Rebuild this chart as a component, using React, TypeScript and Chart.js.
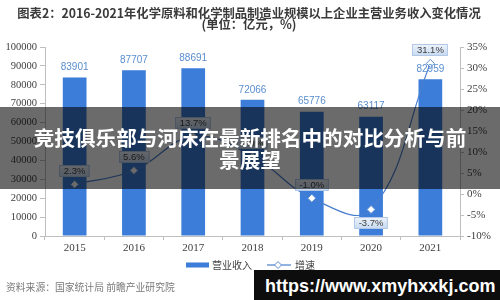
import React, { useEffect, useRef } from "react";
import { Chart, registerables } from "chart.js";

Chart.register(...registerables);

const years = ["2015", "2016", "2017", "2018", "2019", "2020", "2021"];
const revenue = [83901, 87707, 88691, 72066, 65776, 63117, 82959];
const growth = [2.3, 5.6, 13.7, 9.0, -1.0, -3.7, 31.1];
const titleLines = [
  "图表2：2016-2021年化学原料和化学制品制造业规模以上企业主营业务收入变化情况",
  "(单位：亿元，%)",
];
const legendLabels = ["营业收入", "增速"];
const sourceText = "资料来源：国家统计局 前瞻产业研究院";
const bannerText = "竞技俱乐部与河床在最新排名中的对比分析与前景展望";
const urlText = "https://www.xmyhxxkj.com";

const BAR_COLOR = "#3b7dd8";
const LINE_COLOR = "#4a7fcf";
const POINT_BORDER = "#5b8ed6";

const drawDiamond = (ctx: CanvasRenderingContext2D, x: number, y: number, r: number) => {
  ctx.beginPath();
  ctx.moveTo(x, y - r);
  ctx.lineTo(x + r, y);
  ctx.lineTo(x, y + r);
  ctx.lineTo(x - r, y);
  ctx.closePath();
  ctx.fillStyle = "#ffffff";
  ctx.fill();
  ctx.strokeStyle = POINT_BORDER;
  ctx.lineWidth = 1;
  ctx.stroke();
};

const overlayPlugin = {
  id: "overlayLabels",
  afterDatasetsDraw(chart: any) {
    const ctx: CanvasRenderingContext2D = chart.ctx;
    ctx.save();
    // bar value labels
    const barMeta = chart.getDatasetMeta(0);
    ctx.font = '10px "Liberation Sans"';
    ctx.fillStyle = "#5a8ed0";
    ctx.textAlign = "center";
    ctx.textBaseline = "middle";
    barMeta.data.forEach((el: any, i: number) => {
      ctx.fillText(String(revenue[i]), el.x, el.y - 10);
    });
    // growth labels
    const lineMeta = chart.getDatasetMeta(1);
    ctx.font = '9.5px "Liberation Sans"';
    lineMeta.data.forEach((el: any, i: number) => {
      const v = growth[i];
      const isMin = i > 0 && i < growth.length - 1 && v < growth[i - 1] && v < growth[i + 1];
      const cy = isMin ? el.y + 13 : el.y - 13.5;
      const text = v.toFixed(1) + "%";
      const w = ctx.measureText(text).width + 9;
      const h = 12;
      const x0 = Math.round(el.x - w / 2);
      const y0 = Math.round(cy - h / 2);
      const g = ctx.createLinearGradient(0, y0, 0, y0 + h);
      g.addColorStop(0, "#eef4fb");
      g.addColorStop(1, "#c6d9f1");
      ctx.fillStyle = g;
      ctx.fillRect(x0, y0, w, h);
      ctx.strokeStyle = "#b3c8e6";
      ctx.lineWidth = 1;
      ctx.strokeRect(x0 + 0.5, y0 + 0.5, w - 1, h - 1);
      ctx.fillStyle = "#404040";
      ctx.fillText(text, el.x, y0 + h / 2 + 0.5);
    });
    ctx.restore();
  },
  afterDraw(chart: any) {
    const ctx: CanvasRenderingContext2D = chart.ctx;
    ctx.save();
    // title
    ctx.fillStyle = "#3a3a3a";
    ctx.textAlign = "center";
    ctx.textBaseline = "middle";
    ctx.font = 'bold 12.3px "Noto Sans CJK SC"';
    ctx.fillText(titleLines[0], 249, 13);
    ctx.fillText(titleLines[1], 249, 24.5);
    // legend
    const ly = 265;
    ctx.fillStyle = BAR_COLOR;
    ctx.fillRect(186, ly - 2.5, 23, 5);
    ctx.textAlign = "left";
    ctx.fillStyle = "#404040";
    ctx.font = '10px "Noto Sans CJK SC"';
    ctx.fillText(legendLabels[0], 212, ly);
    ctx.strokeStyle = LINE_COLOR;
    ctx.lineWidth = 1.2;
    ctx.beginPath();
    ctx.moveTo(267, ly);
    ctx.lineTo(291, ly);
    ctx.stroke();
    drawDiamond(ctx, 278, ly, 3.5);
    ctx.fillStyle = "#404040";
    ctx.fillText(legendLabels[1], 295, ly);
    // source
    ctx.fillStyle = "#7a7a7a";
    ctx.font = '9.8px "Noto Sans CJK SC"';
    ctx.fillText(sourceText, 6, 287);
    ctx.restore();
  },
};

export default function App() {
  const canvasRef = useRef<HTMLCanvasElement | null>(null);

  useEffect(() => {
    document.body.style.margin = "0";
    const canvas = canvasRef.current;
    if (!canvas) return;
    const tickFont = { family: '"Liberation Serif"', size: 10.5 };
    const chart = new Chart(canvas, {
      type: "bar",
      data: {
        labels: years,
        datasets: [
          {
            type: "bar",
            label: legendLabels[0],
            data: revenue,
            backgroundColor: BAR_COLOR,
            categoryPercentage: 1,
            barPercentage: 0.4,
            yAxisID: "y",
            order: 1,
          },
          {
            type: "line",
            label: legendLabels[1],
            data: growth,
            borderColor: LINE_COLOR,
            borderWidth: 1.2,
            tension: 0.4,
            pointStyle: "rectRot",
            pointRadius: 4,
            pointBackgroundColor: "#ffffff",
            pointBorderColor: POINT_BORDER,
            pointBorderWidth: 1,
            yAxisID: "y1",
            order: 0,
          } as any,
        ],
      },
      options: {
        animation: false,
        responsive: false,
        maintainAspectRatio: false,
        layout: { padding: { top: 47, left: 0, right: 0, bottom: 0 } },
        plugins: {
          legend: { display: false },
          title: { display: false },
          tooltip: { enabled: false },
        },
        scales: {
          x: {
            offset: true,
            grid: { display: true, drawOnChartArea: false, offset: true, tickLength: 4, color: "#bfbfbf" },
            border: { color: "#bfbfbf" },
            ticks: { font: { family: '"Liberation Serif"', size: 11 }, color: "#404040", padding: 2 },
            afterFit: (s: any) => {
              s.height = 64;
            },
          },
          y: {
            position: "left",
            min: 0,
            max: 100000,
            ticks: {
              stepSize: 10000,
              font: tickFont,
              color: "#404040",
              padding: 3,
              callback: (v: any) => String(v),
            },
            grid: { drawOnChartArea: false, tickLength: 5, color: "#bfbfbf" },
            border: { color: "#bfbfbf" },
            afterFit: (s: any) => {
              s.width = 45;
            },
          },
          y1: {
            position: "right",
            min: -10,
            max: 35,
            ticks: {
              stepSize: 5,
              font: { family: '"Liberation Serif"', size: 11 },
              color: "#404040",
              padding: 3,
              callback: (v: any) => v + "%",
            },
            grid: { drawOnChartArea: false, tickLength: 4, color: "#bfbfbf" },
            border: { color: "#bfbfbf" },
            afterFit: (s: any) => {
              s.width = 40;
            },
          },
        },
      } as any,
      plugins: [overlayPlugin],
    });
    return () => chart.destroy();
  }, []);

  return (
    <div
      style={{
        position: "absolute",
        left: 0,
        top: 0,
        width: 500,
        height: 300,
        overflow: "hidden",
        background: "#ffffff",
      }}
    >
      <canvas ref={canvasRef} width={500} height={300} style={{ display: "block", width: 500, height: 300 }} />
      <div
        style={{
          position: "absolute",
          left: 0,
          top: 107,
          width: 500,
          height: 82,
          boxSizing: "border-box",
          padding: "0 30px",
          background: "rgba(0,0,0,0.58)",
          display: "flex",
          alignItems: "center",
          justifyContent: "center",
          textAlign: "center",
          color: "#ffffff",
          fontFamily: '"Noto Sans CJK SC", sans-serif',
          fontWeight: 700,
          fontSize: 20.6,
          lineHeight: "22px",
        }}
      >
        {bannerText}
      </div>
      <div
        style={{
          position: "absolute",
          left: 254,
          top: 270,
          width: 246,
          height: 30,
          boxSizing: "border-box",
          paddingLeft: 11,
          paddingTop: 1,
          background: "#0d0d0d",
          color: "#ffffff",
          fontFamily: '"Liberation Sans", sans-serif',
          fontWeight: 700,
          fontSize: 18,
          lineHeight: "30px",
          whiteSpace: "nowrap",
        }}
      >
        {urlText}
      </div>
    </div>
  );
}
